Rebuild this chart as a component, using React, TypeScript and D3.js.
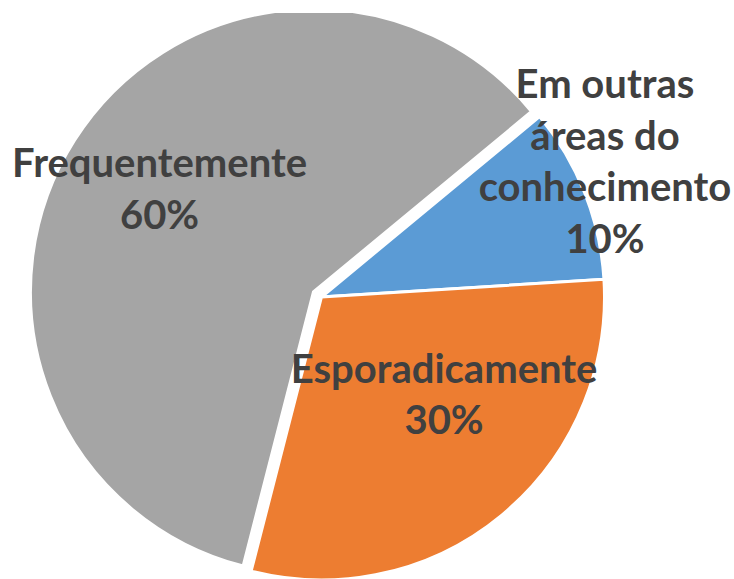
import React from "react";
import * as d3 from "d3";

const categories = ["Em outras áreas do conhecimento", "Esporadicamente", "Frequentemente"];
const values = [10, 30, 60];
const labelLines = [
  ["Em outras", "áreas do", "conhecimento", "10%"],
  ["Esporadicamente", "30%"],
  ["Frequentemente", "60%"],
];
const colors = ["#5B9BD5", "#ED7D31", "#A5A5A5"];
const explode = [0, 0, 9.5];
// label placement: fraction of the slice's angle span, and fraction of radius
const labelAngleFrac = [0.394, 0.393, 0.505];
const labelRadiusFrac = [1.109, 0.556, 0.652];

const W = 734;
const H = 579;
const CX = 321.5;
const CY = 297;
const R = 283;
const START = (50.4 * Math.PI) / 180;
const FONT_SIZE = 40;
const LINE_H = 51.5;
const CAP = 13;

export default function App() {
  const pie = d3
    .pie<number>()
    .sort(null)
    .startAngle(START)
    .endAngle(START + 2 * Math.PI)
    .value((d) => d);
  const arcs = pie(values);
  const arc = d3.arc<d3.PieArcDatum<number>>().innerRadius(0).outerRadius(R);

  return (
    <svg
      width={W}
      height={H}
      style={{ position: "fixed", left: 0, top: 0, background: "#fff" }}
    >
      <defs>
        <clipPath id="plotClip">
          <rect x={0} y={13} width={W} height={H - 13} />
        </clipPath>
      </defs>
      <g clipPath="url(#plotClip)">
        {arcs.map((a, i) => {
          const mid = (a.startAngle + a.endAngle) / 2;
          const ox = Math.sin(mid) * explode[i];
          const oy = -Math.cos(mid) * explode[i];
          return (
            <path
              key={categories[i]}
              d={arc(a) || ""}
              transform={`translate(${CX + ox},${CY + oy})`}
              fill={colors[i]}
              stroke="#fff"
              strokeWidth={3}
              strokeLinejoin="miter"
            />
          );
        })}
      </g>
      {arcs.map((a, i) => {
        const mid = (a.startAngle + a.endAngle) / 2;
        const ox = Math.sin(mid) * explode[i];
        const oy = -Math.cos(mid) * explode[i];
        const ang = a.startAngle + (a.endAngle - a.startAngle) * labelAngleFrac[i];
        const rr = R * labelRadiusFrac[i];
        const lx = CX + ox + Math.sin(ang) * rr;
        const ly = CY + oy - Math.cos(ang) * rr;
        const lines = labelLines[i];
        const n = lines.length;
        return (
          <text
            key={"l" + i}
            x={lx}
            textAnchor="middle"
            fontFamily="Lato, 'Open Sans', sans-serif"
            fontWeight="bold"
            fontSize={FONT_SIZE}
            fill="#404040"
          >
            {lines.map((t, j) => (
              <tspan key={j} x={lx} y={ly + (j - (n - 1) / 2) * LINE_H + CAP}>
                {t}
              </tspan>
            ))}
          </text>
        );
      })}
    </svg>
  );
}
